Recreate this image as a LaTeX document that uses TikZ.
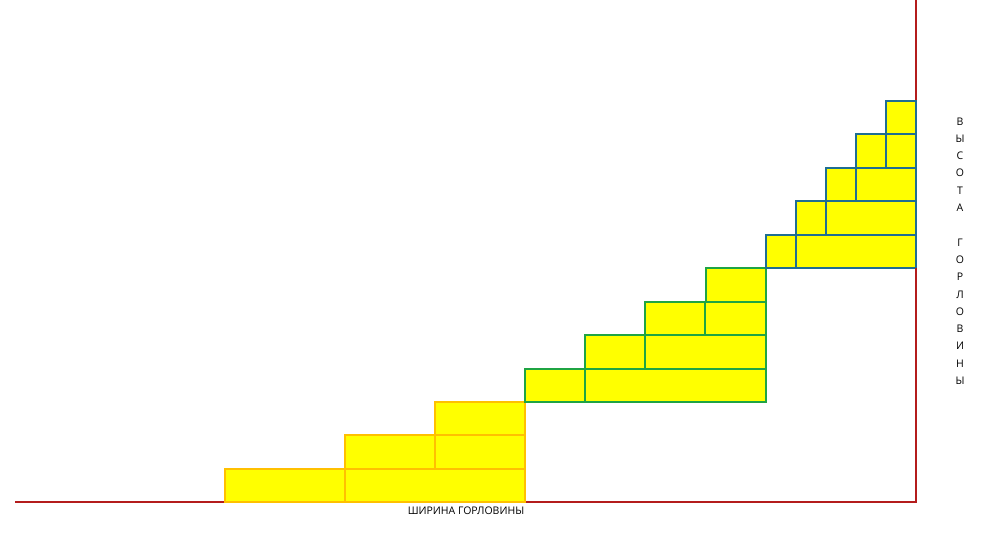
\documentclass[tikz,border=0pt]{standalone}
\usepackage{fontspec}
\setmainfont{Open Sans}
\usepackage{tikz}
\definecolor{axisred}{HTML}{B41C1C}
\definecolor{stepfill}{HTML}{FFFF00}
\definecolor{orangeline}{HTML}{FFC000}
\definecolor{greenline}{HTML}{1FA443}
\definecolor{blueline}{HTML}{1F6E92}
\tikzstyle{axis} = [draw=axisred, line width=2pt]
\tikzstyle{orangestep} = [draw=orangeline, fill=stepfill, line width=2pt]
\tikzstyle{greenstep} = [draw=greenline, fill=stepfill, line width=2pt]
\tikzstyle{bluestep} = [draw=blueline, fill=stepfill, line width=2pt]
\tikzstyle{axislabel} = [inner sep=0pt, font=\fontsize{10.5}{12}\selectfont]

\begin{document}
\begin{tikzpicture}[x=1pt, y=-1pt]
  \useasboundingbox (0,0) rectangle (1006,549);
  % axes
  \coordinate (origin) at (916,502);
  \coordinate (xend) at (15,502);
  \coordinate (yend) at (916,0);
  \draw [axis] (xend) -- (origin) -- (yend);

  % orange steps
  \draw [orangestep] (225,502) rectangle (345,469);
  \draw [orangestep] (345,502) rectangle (525,469);
  \draw [orangestep] (345,469) rectangle (435,435);
  \draw [orangestep] (435,469) rectangle (525,435);
  \draw [orangestep] (435,435) rectangle (525,402);

  % green steps
  \foreach \x [count=\i] in {525,585,645,706} {
    \draw [greenstep] (\x,{402-33.5*(\i-1)}) rectangle (766,{402-33.5*\i});
    \ifnum\i<4
      \draw [greenline, line width=2pt] ({\x+60},{402-33.5*(\i-1)}) -- ({\x+60},{402-33.5*\i});
    \fi
  }

  % blue steps
  \foreach \x [count=\i] in {766,796,826,856,886} {
    \draw [bluestep] (\x,{268-33.5*(\i-1)}) rectangle (916,{268-33.5*\i});
    \ifnum\i<5
      \draw [blueline, line width=2pt] ({\x+30},{268-33.5*(\i-1)}) -- ({\x+30},{268-33.5*\i});
    \fi
  }
  \draw [axis] (origin) -- (916,268);

  % labels
  \node (width) [axislabel] at (466,511) {ШИРИНА ГОРЛОВИНЫ};
  \node (height) [axislabel, align=center, font=\fontsize{10.5}{17.3}\selectfont] at (960,251)
    {В\\Ы\\С\\О\\Т\\А\\[17.3pt]Г\\О\\Р\\Л\\О\\В\\И\\Н\\Ы};
\end{tikzpicture}
\end{document}
